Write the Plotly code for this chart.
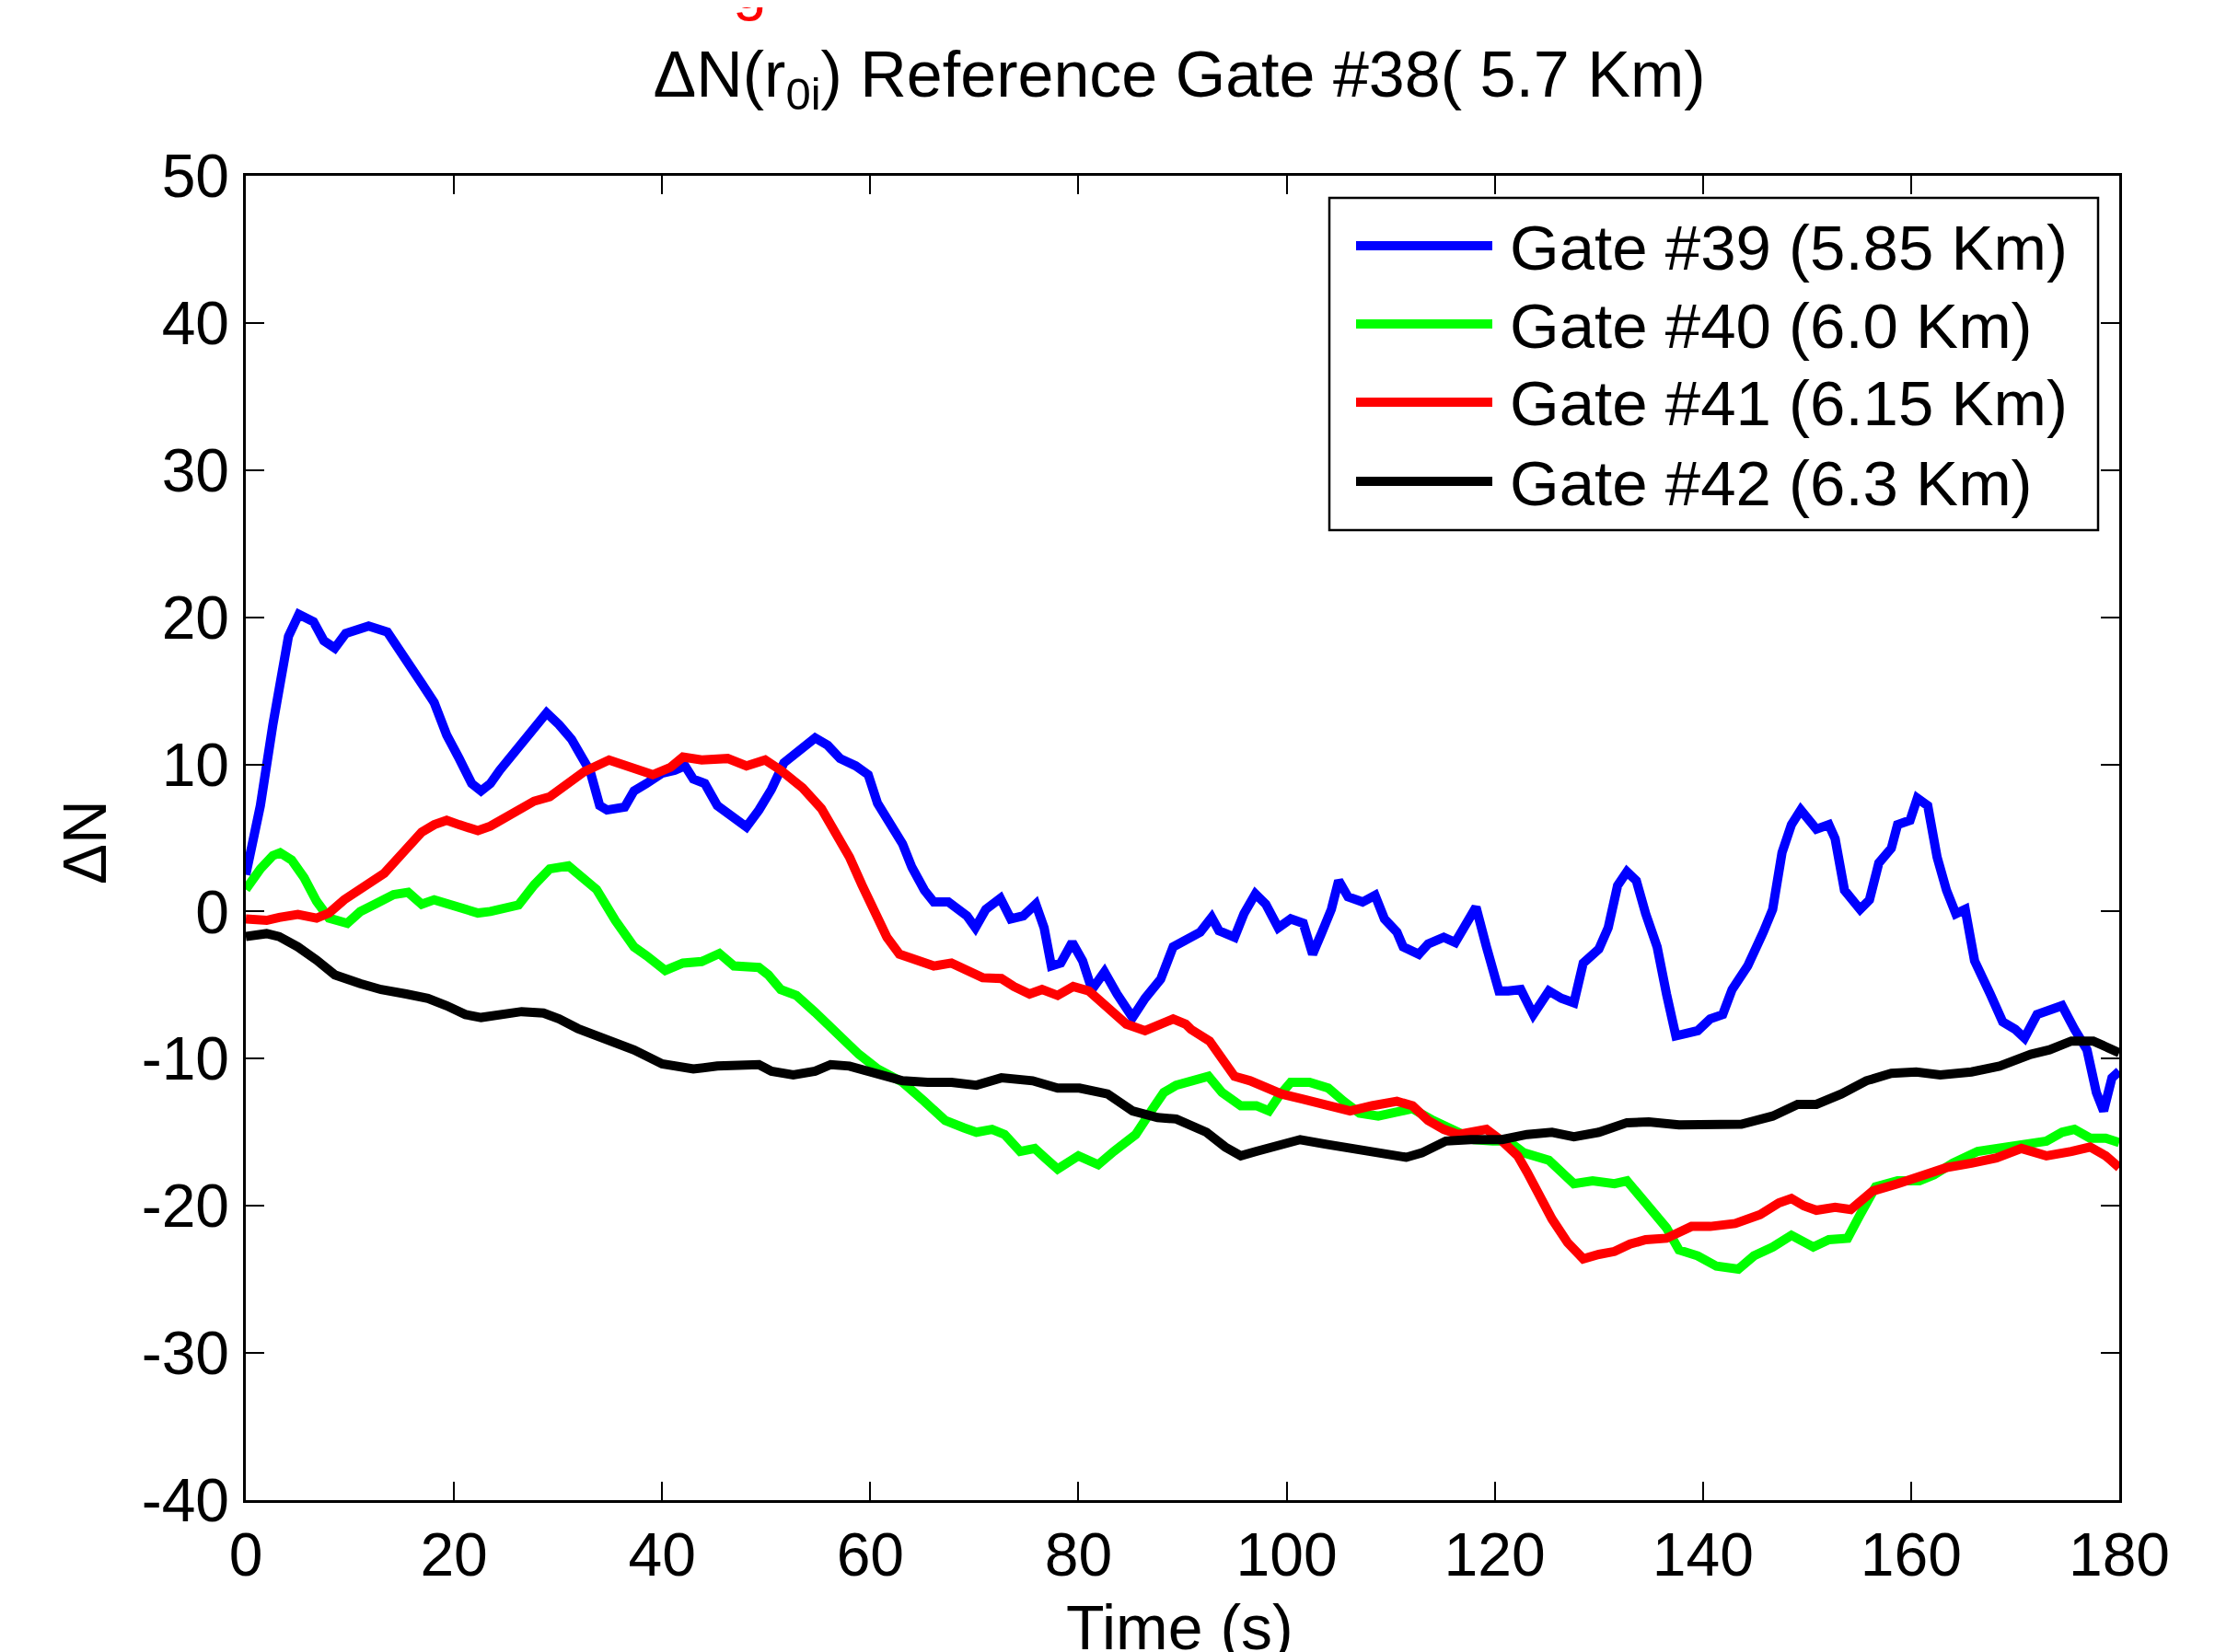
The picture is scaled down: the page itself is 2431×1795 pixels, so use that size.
import plotly.graph_objects as go

# ---------------- data ----------------
t39 = [0, 1.4, 2.6, 3.5, 4.1, 5.1, 6.5, 7.5, 8.55, 9.6, 11, 11.8, 13.6, 15.1, 16.9, 18.1, 19.3, 20.5, 21.7, 22.6,
       23.5, 24.4, 25.6, 27.1, 28.9, 30.1, 31.3, 32.2, 33.1, 34, 34.7, 36.4, 37.3, 38.5, 40, 41.2, 42.2, 43, 44.1,
       45.3, 46.5, 48.1, 49.3, 50.5, 51.7, 53.2, 54.7, 55.9, 57.1, 58.6, 59.8, 60.7, 61.9, 63.1, 64, 65.2, 66.1,
       67.5, 69.3, 70.1, 71.1, 72.5, 73.5, 74.7, 75.9, 76.7, 77.4, 78.3, 79.4, 80.4, 81.3, 82.5, 83.7, 85.2, 86.4,
       87.9, 89.1, 90.6, 91.7, 92.8, 93.5, 95, 95.9, 97, 98, 99.2, 100.4, 101.6, 102.5, 103.4, 104.3, 105, 105.9,
       107.3, 108.5, 109.4, 110.6, 111.2, 112.7, 113.6, 115.1, 116.2, 117.1, 118.2, 119.2, 120.4, 121.3, 122.5,
       123.7, 125.2, 126.4, 127.6, 128.5, 130, 130.9, 131.8, 132.7, 133.6, 134.5, 135.6, 136.5, 137.4, 138.3,
       139.5, 140.7, 141.9, 142.8, 144.3, 145.8, 146.7, 147.6, 148.5, 149.4, 150.9, 152.1, 152.7, 153.6, 155.1,
       156, 156.9, 158.1, 158.7, 159.9, 160.6, 161.6, 162.5, 163.4, 164.3, 165.2, 166.1, 167.6, 168.8, 170,
       170.9, 172.1, 173.3, 174.5, 175.7, 176.9, 177.8, 178.5, 179.3, 180]
n39 = [2.5, 7.2, 12.7, 16.5, 18.7, 20.2, 19.7, 18.4, 17.9, 18.9, 19.2, 19.4, 19.0, 17.3, 15.5, 14.2, 12.0, 10.4, 8.7, 8.2,
       8.7, 9.6, 10.6, 12.0, 13.5, 12.7, 11.7, 10.6, 9.5, 7.2, 6.9, 7.1, 8.2, 8.7, 9.4, 9.6, 9.9, 9.0, 8.7,
       7.2, 6.6, 5.75, 6.9, 8.3, 10.1, 11.0, 11.8, 11.3, 10.4, 9.9, 9.3, 7.35, 6.1, 4.6, 3.0, 1.45, 0.65,
       0.65, -0.3, -1.1, 0.15, 0.9, -0.5, -0.3, 0.5, -1.1, -3.7, -3.5, -2.1, -3.35, -5.3, -4.1, -5.6, -7.2, -5.9,
       -4.6, -2.4, -1.9, -1.4, -0.4, -1.3, -1.75, -0.15, 1.2, 0.5, -1.1, -0.5, -0.8, -2.9, -1.4, 0.15, 2.1, 1.0,
       0.65, 1.1, -0.5, -1.4, -2.4, -2.9, -2.2, -1.75, -2.1, -1.1, 0.3, -2.4, -5.4, -5.4, -5.3,
       -7.0, -5.4, -5.9, -6.2, -3.5, -2.55, -1.1, 1.76, 2.7, 2.1, -0.15, -2.4, -5.6, -8.45, -8.3,
       -8.1, -7.3, -7.0, -5.3, -3.7, -1.4, 0.15, 4.0, 5.9, 6.9, 5.6, 5.9, 4.95, 1.45, 0.15,
       0.8, 3.3, 4.3, 5.9, 6.2, 7.7, 7.2, 3.7, 1.45, -0.15, 0.15, -3.35, -5.6, -7.5, -8.0,
       -8.6, -7.0, -6.7, -6.4, -8.0, -9.4, -12.3, -13.55, -11.3, -10.85]

t40 = [0, 1.4, 2.6, 3.3, 4.4, 5.6, 6.8, 8, 9.75, 11, 12.4, 14.2, 15.6, 16.9, 18.1, 20.5, 22.3, 23.5, 25, 26.2, 27.7,
       29.2, 31, 32.5, 33.7, 35.5, 37.3, 38.5, 40.3, 42.0, 43.8, 45.5, 46.9, 49.3, 50.2, 51.4, 52.9, 54.7, 56.8,
       58.9, 60.7, 63.1, 65.2, 67.2, 69.0, 70.2, 71.7, 72.9, 74.4, 75.8, 76.8, 78, 80, 81.9, 83.4, 85.5, 87, 88.2,
       89.4, 91.1, 92.5, 93.8, 95.6, 97.1, 98.3, 99.2, 100.4, 102.2, 104, 105.5, 107, 108.8, 110.6, 112.1, 114.1,
       115.9, 118, 119.8, 121.3, 122.8, 125.2, 126.4, 127.6, 129.4, 131.5, 132.7, 133.9, 135.4, 136.5, 137.7,
       139.5, 141.3, 143.4, 144.9, 146.7, 148.5, 150.6, 152.1, 153.9, 155.1, 156.6, 158.7, 160.8, 162.2, 164,
       166.4, 168.5, 170.6, 173, 174.5, 175.7, 177.2, 178.7, 180]
n40 = [1.5, 2.9, 3.8, 4.0, 3.5, 2.3, 0.7, -0.45, -0.8, 0, 0.5, 1.15, 1.3, 0.5, 0.8, 0.35, -0.1, 0, 0.25, 0.45, 1.8,
       2.9, 3.1, 2.3, 1.5, -0.6, -2.4, -3.0, -4.0, -3.5, -3.4, -2.85, -3.7, -3.8, -4.3, -5.3, -5.7, -6.85, -8.3,
       -9.7, -10.7, -11.6, -12.9, -14.2, -14.7, -15.0, -14.8, -15.15, -16.3, -16.1, -16.75, -17.5, -16.6, -17.2,
       -16.3, -15.15, -13.55, -12.3, -11.8, -11.5, -11.2, -12.3, -13.2, -13.2, -13.55, -12.6, -11.6, -11.6, -12.0,
       -12.9, -13.7, -13.9, -13.55, -13.4, -14.2, -14.8, -15.5, -15.6, -15.6, -16.4, -16.9, -17.7, -18.5, -18.3,
       -18.5, -18.3, -19.3, -20.4, -21.5, -23.0, -23.4, -24.1, -24.3, -23.4, -22.8, -22.0, -22.8, -22.3, -22.2,
       -20.6, -18.7, -18.3, -18.3, -17.9, -17.1, -16.3, -16.0, -15.85, -15.6, -15.0, -14.8, -15.4, -15.4, -15.7]

t41 = [0, 2, 3.2, 5, 6.8, 8, 9.45, 11.5, 13.3, 15.1, 16.9, 18.1, 19.3, 20.5, 22.3, 23.5, 25.3, 27.7, 29.2, 30.7,
       32.5, 34.9, 36.1, 37.3, 39.1, 40.8, 42.0, 43.8, 45.6, 46.3, 48.1, 49.9, 51.4, 53.5, 55.3, 56.8, 58, 59.2,
       60.4, 61.6, 62.8, 64, 66.1, 67.8, 69.6, 70.8, 72.6, 73.8, 75.3, 76.5, 78, 79.5, 81, 83.1, 84.6, 86.4, 87.6,
       89.1, 90.3, 90.8, 92.6, 93.8, 95, 96.5, 98, 99.5, 101.6, 103.7, 106.1, 108.2, 110.6, 112.1, 113.6, 115.1,
       116.5, 117.7, 119.2, 120.7, 122.2, 123.1, 124.3, 125.5, 127, 128.5, 130, 131.5, 133, 134.5, 136.5, 138.9,
       140.7, 143.1, 145.5, 147.3, 148.5, 149.7, 150.9, 152.7, 154.2, 156.3, 158.7, 161.0, 163.4, 165.8, 168.2,
       170.6, 173, 175.4, 177.2, 178.7, 180]
n41 = [-0.5, -0.6, -0.4, -0.2, -0.45, -0.1, 0.8, 1.85, 2.6, 4.0, 5.4, 5.9, 6.2, 5.9, 5.5, 5.8, 6.6, 7.5, 7.8, 8.5,
       9.5, 10.3, 10.0, 9.6, 9.3, 9.8, 10.5, 10.3, 10.35, 10.4, 9.9, 10.3, 9.6, 8.4, 7.0, 5.3, 3.7, 1.8,
       0.0, -1.75, -2.9, -3.2, -3.7, -3.5, -4.0, -4.5, -4.55, -5.1, -5.6, -5.3, -5.7, -5.1, -5.4, -6.7, -7.65, -8.1,
       -7.8, -7.3, -7.65, -8.0, -8.8, -10.0, -11.2, -11.5, -12.0, -12.4, -12.75, -13.1, -13.55, -13.2, -12.9, -13.2,
       -14.2, -14.8, -15.15, -15.0, -14.8, -15.6, -16.6, -17.7, -19.3, -20.9, -22.5, -23.6, -23.3, -23.1, -22.6,
       -22.3, -22.2, -21.4, -21.4, -21.2, -20.6, -19.8, -19.5, -20.0, -20.3, -20.1, -20.25, -19.0, -18.5, -17.9,
       -17.4, -17.1, -16.75, -16.1, -16.6, -16.3, -16.0, -16.6, -17.4]

t42 = [0, 2, 3.2, 5, 6.8, 8.55, 11, 13, 15.4, 17.5, 19.3, 21.1, 22.6, 24.4, 26.5, 28.6, 30.1, 31.9, 34.3, 37.3, 40,
       43, 45.3, 47.5, 49.3, 50.5, 52.6, 54.7, 56.2, 58, 60.4, 63.1, 65.5, 67.8, 70.2, 72.6, 75.6, 78, 80.1, 82.8,
       85.2, 87.6, 89.4, 92.3, 94.1, 95.6, 97.1, 98.6, 101.3, 103.7, 106.4, 109.1, 111.5, 113, 115.3, 117.7,
       120.7, 123.1, 125.5, 127.6, 130, 132.7, 134.8, 137.7, 140.7, 143.7, 146.7, 149.1, 150.9, 153.3, 155.7,
       158.1, 160.5, 162.8, 165.8, 168.5, 171.5, 173.3, 175.4, 177.5, 180]
n42 = [-1.7, -1.5, -1.7, -2.4, -3.3, -4.3, -4.9, -5.3, -5.6, -5.9, -6.4, -7.0, -7.2, -7.0, -6.8, -6.9, -7.3, -7.95,
       -8.6, -9.4, -10.35, -10.7, -10.5, -10.4, -10.4, -10.85, -11.1, -10.85, -10.4, -10.5, -11.0, -11.5, -11.6,
       -11.6, -11.8, -11.3, -11.5, -12.0, -12.0, -12.4, -13.55, -14.0, -14.1, -15.0, -16.0, -16.6, -16.3, -16.0,
       -15.5, -15.8, -16.1, -16.4, -16.7, -16.4, -15.6, -15.5, -15.5, -15.15, -15.0, -15.3, -15.0, -14.35, -14.3,
       -14.5, -14.45, -14.45, -13.9, -13.1, -13.1, -12.4, -11.5, -11.0, -10.9, -11.1, -10.9, -10.5, -9.7, -9.4,
       -8.8, -8.8, -9.6]

names = ["Gate #39 (5.85 Km)", "Gate #40 (6.0 Km)", "Gate #41 (6.15 Km)", "Gate #42 (6.3 Km)"]
colors = ["#0000FF", "#00FF00", "#FF0000", "#000000"]
series = [(t39, n39), (t40, n40), (t41, n41), (t42, n42)]

x_ticks = [0, 20, 40, 60, 80, 100, 120, 140, 160, 180]
y_ticks = [-40, -30, -20, -10, 0, 10, 20, 30, 40, 50]

# ---------------- layout geometry (page pixels) ----------------
W, H = 2431, 1795
OFF = 8                      # default body margin of the html page
L, R, T, B = 267, 2302, 191, 1630
PW, PH = R - L, B - T
FONT = "Liberation Sans, Arial, Helvetica, sans-serif"
FS = 66
LW = 10


def px(xp):
    return (xp - L) / PW


def py(yp):
    return (B - yp) / PH


fig = go.Figure()
for (tt, nn), name, col in zip(series, names, colors):
    fig.add_trace(go.Scatter(x=tt, y=nn, mode="lines", name=name,
                             line=dict(color=col, width=LW), showlegend=False))

axis_common = dict(showgrid=False, zeroline=False, showline=True, linecolor="black", linewidth=2.5,
                   mirror="ticks", ticks="inside", ticklen=20, tickwidth=2, tickcolor="black",
                   tickfont=dict(family=FONT, size=FS, color="black"))

fig.update_xaxes(range=[0, 180], tickvals=x_ticks, ticktext=[str(v) for v in x_ticks],
                 ticklabelstandoff=0, **axis_common)
fig.update_yaxes(range=[-40, 50], tickvals=y_ticks, ticktext=[str(v) for v in y_ticks],
                 ticklabelstandoff=2, **axis_common)

shapes = []
annotations = []

# legend box with long line samples, as in the original
shapes.append(dict(type="rect", xref="paper", yref="paper", x0=px(1444), x1=px(2279), y0=py(576), y1=py(215),
                   line=dict(color="black", width=2.5), fillcolor="white", layer="above"))
rows = [267, 352, 437, 523]
for yr, name, col in zip(rows, names, colors):
    shapes.append(dict(type="line", xref="paper", yref="paper", x0=px(1473), x1=px(1621), y0=py(yr), y1=py(yr),
                       line=dict(color=col, width=LW), layer="above"))
    annotations.append(dict(text=name, xref="paper", yref="paper", x=px(1638), y=py(yr + 2), xanchor="left",
                            yanchor="middle", showarrow=False, font=dict(family=FONT, size=69, color="black")))

# axis titles
annotations.append(dict(text="Time (s)", xref="paper", yref="paper", x=px(1281), y=py(1768), xanchor="center",
                        yanchor="middle", showarrow=False, font=dict(family=FONT, size=68, color="black")))
annotations.append(dict(text="ΔN", xref="paper", yref="paper", x=px(92), y=py(915), xanchor="center",
                        yanchor="middle", textangle=-90, showarrow=False,
                        font=dict(family=FONT, size=FS, color="black")))
# partially visible red caption at the very top of the page
annotations.append(dict(text="g", xref="paper", yref="paper", x=px(814), y=py(25), xanchor="center",
                        yanchor="bottom", showarrow=False, font=dict(family=FONT, size=FS, color="#FF0000")))

fig.update_layout(
    width=W - OFF, height=H - OFF,
    margin=dict(l=L - OFF, r=W - R, t=T - OFF, b=H - B, pad=0),
    paper_bgcolor="white", plot_bgcolor="white",
    title=dict(text="ΔN(r<sub>0i</sub>) Reference Gate #38( 5.7 Km)", x=px(1281), xref="paper",
               xanchor="center", y=1 - (80 - OFF) / (H - OFF), yref="container", yanchor="middle",
               font=dict(family=FONT, size=70, color="black")),
    shapes=shapes, annotations=annotations,
    showlegend=False,
)

fig.write_html("out.html")
